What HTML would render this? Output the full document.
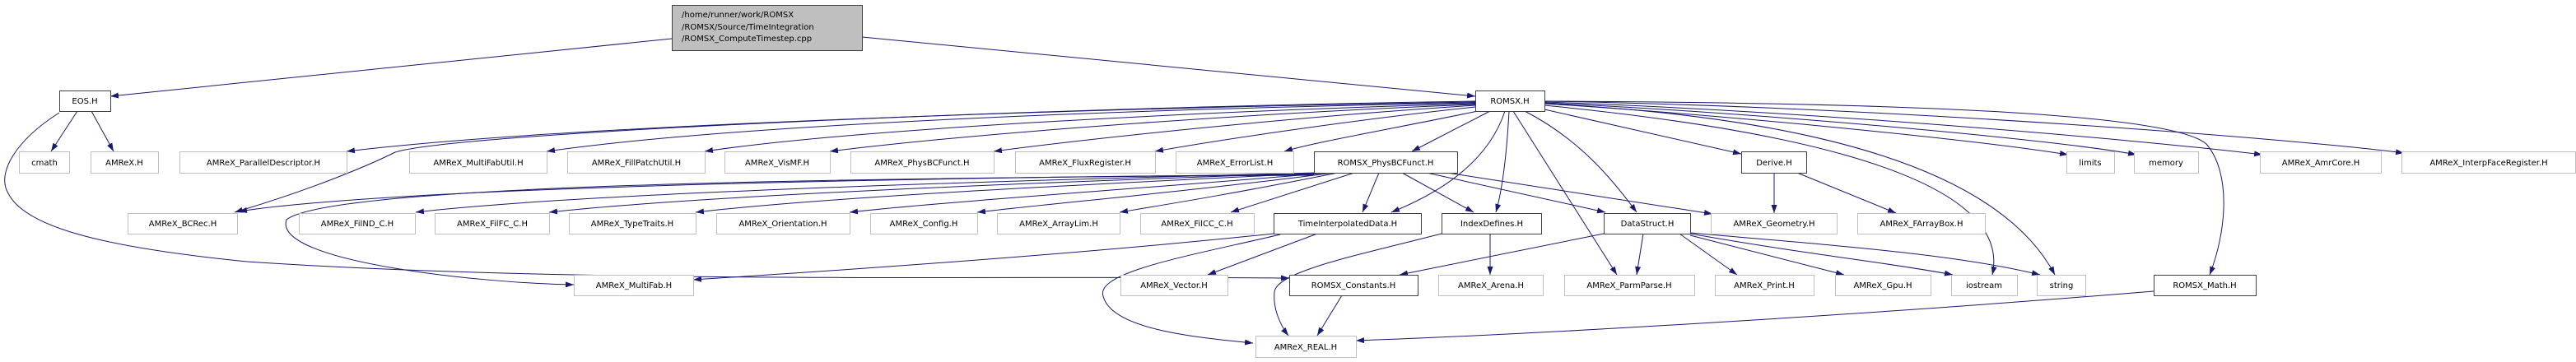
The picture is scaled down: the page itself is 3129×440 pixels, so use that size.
<!DOCTYPE html>
<html><head><meta charset="utf-8"><style>
html,body{margin:0;padding:0;background:#fff;}
svg{display:block;}
text{font-family:"DejaVu Sans","Liberation Sans",sans-serif;font-size:10px;fill:#000;}
.e{fill:none;stroke:#191970;stroke-width:1;}
.x{fill:#fff;stroke:#bfbfbf;stroke-width:1;}
.i{fill:#fff;stroke:#404040;stroke-width:1;}
</style></head><body>
<svg width="3129" height="440" viewBox="0 0 3129 440" xmlns="http://www.w3.org/2000/svg">
<defs><marker id="a" markerUnits="userSpaceOnUse" markerWidth="10" markerHeight="8" refX="10" refY="3.5" orient="auto"><path d="M0,0 L10,3.5 L0,7 z" fill="#191970"/></marker></defs>
<g class="e" marker-end="url(#a)">
<path d="M816,47 L134,117"/>
<path d="M1047,45 L1792,117"/>
<path d="M94,135 L62,184"/>
<path d="M111,135 L138,184"/>
<path d="M72,137 C20,170 -5,210 10,235 C30,275 120,300 300,318 C700,345 1200,335 1566,338"/>
<path d="M1792,124 C1400,130 700,150 421,184"/>
<path d="M1792,125 C1400,132 900,150 664,184"/>
<path d="M1792,126 C1500,134 1050,155 856,184"/>
<path d="M1792,127 C1550,136 1200,160 1008,184"/>
<path d="M1792,128 C1600,140 1350,165 1207,184"/>
<path d="M1792,130 C1650,145 1480,170 1403,184"/>
<path d="M1795,135 C1700,155 1600,172 1560,184"/>
<path d="M1810,135 L1715,184"/>
<path d="M1792,123 C1300,130 560,160 480,185 C450,200 380,230 285,258"/>
<path d="M1828,135 C1810,190 1760,230 1690,258"/>
<path d="M1833,135 C1830,190 1825,230 1817,258"/>
<path d="M1838,135 L1964,334"/>
<path d="M1852,135 C1920,170 1960,220 1988,258"/>
<path d="M1876,133 L2115,187"/>
<path d="M1876,128 C2100,150 2450,200 2420,334"/>
<path d="M1876,126 C2150,140 2420,190 2496,334"/>
<path d="M1876,126 C2100,140 2400,170 2512,188"/>
<path d="M1876,125 C2150,138 2500,170 2595,188"/>
<path d="M1876,124 C2200,135 2600,170 2748,188"/>
<path d="M1876,123 C2300,130 2800,170 2920,186"/>
<path d="M1876,123 C2350,125 2640,140 2680,175 C2710,210 2705,280 2684,334"/>
<path d="M1596,212 C1200,215 500,225 290,257"/>
<path d="M1600,210 C1200,220 700,235 505,258"/>
<path d="M1605,210 C1250,222 850,238 667,258"/>
<path d="M1610,210 C1300,225 1000,240 845,258"/>
<path d="M1615,210 C1400,228 1150,245 1032,258"/>
<path d="M1620,210 C1450,232 1300,245 1187,258"/>
<path d="M1625,210 C1500,235 1420,248 1360,258"/>
<path d="M1645,210 L1495,258"/>
<path d="M1675,210 L1655,258"/>
<path d="M1703,210 L1790,258"/>
<path d="M1733,210 L1950,258"/>
<path d="M1758,210 L2080,260"/>
<path d="M1596,213 C1000,216 400,225 348,267 C330,320 600,345 697,346"/>
<path d="M1547,284 C1300,310 1000,330 842,340"/>
<path d="M1600,284 L1467,334"/>
<path d="M1555,285 C1450,310 1330,330 1340,360 C1350,400 1450,410 1522,417"/>
<path d="M1751,284 C1650,310 1550,330 1548,355 C1546,375 1555,395 1565,408"/>
<path d="M1810,284 L1810,334"/>
<path d="M1630,359 L1600,408"/>
<path d="M1948,284 L1700,334"/>
<path d="M1996,284 L1988,334"/>
<path d="M2040,284 L2110,334"/>
<path d="M2053,286 L2240,334"/>
<path d="M2053,284 C2200,310 2300,320 2372,334"/>
<path d="M2053,283 C2250,300 2380,310 2478,334"/>
<path d="M2616,354 C2300,380 1900,405 1647,414"/>
<path d="M2155,210 L2155,259"/>
<path d="M2183,210 L2303,259"/>
</g>
<rect x="816.5" y="6.5" width="231" height="55" fill="#bfbfbf" stroke="#404040"/>
<text x="828" y="21">/home/runner/work/ROMSX</text>
<text x="828" y="36">/ROMSX/Source/TimeIntegration</text>
<text x="828" y="50">/ROMSX_ComputeTimestep.cpp</text>
<g text-anchor="middle">
<rect class="i" x="72.5" y="110.5" width="62" height="25"/><text x="103" y="126">EOS.H</text>
<rect class="i" x="1792.5" y="110.5" width="84" height="25"/><text x="1834" y="126">ROMSX.H</text>
<rect class="x" x="23.5" y="184.5" width="61" height="26"/><text x="54" y="201">cmath</text>
<rect class="x" x="110.5" y="184.5" width="82" height="26"/><text x="151" y="201">AMReX.H</text>
<rect class="x" x="218.5" y="184.5" width="203" height="26"/><text x="320" y="201">AMReX_ParallelDescriptor.H</text>
<rect class="x" x="497.5" y="184.5" width="167" height="26"/><text x="581" y="201">AMReX_MultiFabUtil.H</text>
<rect class="x" x="689.5" y="184.5" width="167" height="26"/><text x="773" y="201">AMReX_FillPatchUtil.H</text>
<rect class="x" x="880.5" y="184.5" width="128" height="26"/><text x="944" y="201">AMReX_VisMF.H</text>
<rect class="x" x="1033.5" y="184.5" width="174" height="26"/><text x="1120" y="201">AMReX_PhysBCFunct.H</text>
<rect class="x" x="1233.5" y="184.5" width="170" height="26"/><text x="1318" y="201">AMReX_FluxRegister.H</text>
<rect class="x" x="1428.5" y="184.5" width="143" height="26"/><text x="1500" y="201">AMReX_ErrorList.H</text>
<rect class="i" x="1596.5" y="184.5" width="174" height="26"/><text x="1683" y="201">ROMSX_PhysBCFunct.H</text>
<rect class="i" x="2115.5" y="184.5" width="79" height="26"/><text x="2155" y="201">Derive.H</text>
<rect class="x" x="2510.5" y="184.5" width="58" height="26"/><text x="2539" y="201">limits</text>
<rect class="x" x="2592.5" y="184.5" width="78" height="26"/><text x="2631" y="201">memory</text>
<rect class="x" x="2745.5" y="184.5" width="147" height="26"/><text x="2819" y="201">AMReX_AmrCore.H</text>
<rect class="x" x="2917.5" y="184.5" width="211" height="26"/><text x="3023" y="201">AMReX_InterpFaceRegister.H</text>
<rect class="x" x="155.5" y="259.5" width="133" height="25"/><text x="222" y="275">AMReX_BCRec.H</text>
<rect class="x" x="363.5" y="259.5" width="141" height="25"/><text x="434" y="275">AMReX_FilND_C.H</text>
<rect class="x" x="528.5" y="259.5" width="139" height="25"/><text x="598" y="275">AMReX_FilFC_C.H</text>
<rect class="x" x="691.5" y="259.5" width="154" height="25"/><text x="768" y="275">AMReX_TypeTraits.H</text>
<rect class="x" x="870.5" y="259.5" width="162" height="25"/><text x="951" y="275">AMReX_Orientation.H</text>
<rect class="x" x="1057.5" y="259.5" width="130" height="25"/><text x="1122" y="275">AMReX_Config.H</text>
<rect class="x" x="1211.5" y="259.5" width="149" height="25"/><text x="1286" y="275">AMReX_ArrayLim.H</text>
<rect class="x" x="1385.5" y="259.5" width="138" height="25"/><text x="1454" y="275">AMReX_FilCC_C.H</text>
<rect class="i" x="1547.5" y="259.5" width="179" height="25"/><text x="1637" y="275">TimeInterpolatedData.H</text>
<rect class="i" x="1751.5" y="259.5" width="121" height="25"/><text x="1812" y="275">IndexDefines.H</text>
<rect class="i" x="1948.5" y="259.5" width="105" height="25"/><text x="2001" y="275">DataStruct.H</text>
<rect class="x" x="2078.5" y="259.5" width="153" height="25"/><text x="2155" y="275">AMReX_Geometry.H</text>
<rect class="x" x="2256.5" y="259.5" width="155" height="25"/><text x="2334" y="275">AMReX_FArrayBox.H</text>
<rect class="x" x="697.5" y="334.5" width="145" height="25"/><text x="770" y="350">AMReX_MultiFab.H</text>
<rect class="x" x="1361.5" y="334.5" width="130" height="25"/><text x="1426" y="350">AMReX_Vector.H</text>
<rect class="i" x="1566.5" y="334.5" width="156" height="25"/><text x="1644" y="350">ROMSX_Constants.H</text>
<rect class="x" x="1747.5" y="334.5" width="127" height="25"/><text x="1811" y="350">AMReX_Arena.H</text>
<rect class="x" x="1900.5" y="334.5" width="158" height="25"/><text x="1979" y="350">AMReX_ParmParse.H</text>
<rect class="x" x="2083.5" y="334.5" width="120" height="25"/><text x="2143" y="350">AMReX_Print.H</text>
<rect class="x" x="2229.5" y="334.5" width="116" height="25"/><text x="2287" y="350">AMReX_Gpu.H</text>
<rect class="x" x="2370.5" y="334.5" width="80" height="25"/><text x="2410" y="350">iostream</text>
<rect class="x" x="2474.5" y="334.5" width="59" height="25"/><text x="2504" y="350">string</text>
<rect class="i" x="2616.5" y="334.5" width="124" height="25"/><text x="2678" y="350">ROMSX_Math.H</text>
<rect class="x" x="1525.5" y="408.5" width="122" height="26"/><text x="1586" y="425">AMReX_REAL.H</text>
</g>
</svg>
</body></html>
